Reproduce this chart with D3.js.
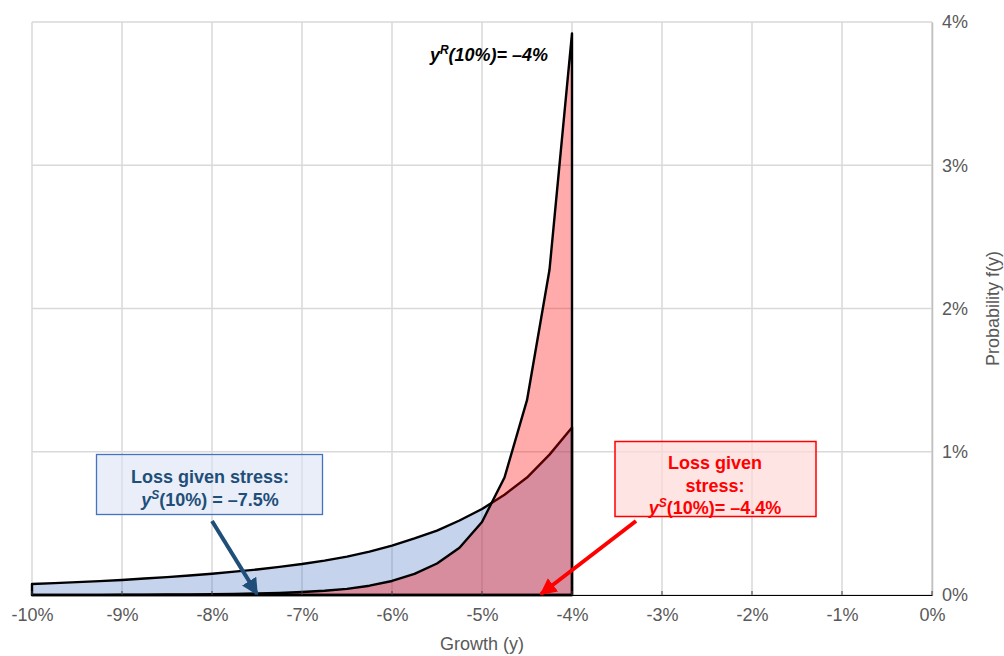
<!DOCTYPE html>
<html>
<head>
<meta charset="utf-8">
<script src="https://cdn.jsdelivr.net/npm/d3@7"></script>
<style>
  html, body { margin: 0; padding: 0; background: #fff; }
  svg { display: block; font-family: "Liberation Sans", Arial, sans-serif; }
</style>
</head>
<body>
<svg id="chart" width="1004" height="656"></svg>
<script>
// Growth grid (in %), stressed/blue and reverse/red densities (in %)
const growth = [-10, -9.75, -9.5, -9.25, -9, -8.75, -8.5, -8.25, -8, -7.75, -7.5, -7.25, -7,
  -6.75, -6.5, -6.25, -6, -5.75, -5.5, -5.25, -5, -4.75, -4.5, -4.25, -4];
const blueDensity = [0.077, 0.083, 0.090, 0.097, 0.105, 0.115, 0.125, 0.136, 0.148, 0.163, 0.178,
  0.196, 0.216, 0.240, 0.268, 0.303, 0.345, 0.395, 0.450, 0.520, 0.600, 0.700, 0.820, 0.980, 1.170];
const redDensity = [0.000, 0.000, 0.001, 0.001, 0.002, 0.002, 0.003, 0.004, 0.006, 0.008, 0.011,
  0.015, 0.021, 0.030, 0.043, 0.065, 0.098, 0.148, 0.220, 0.330, 0.510, 0.820, 1.360, 2.270, 3.920];
const xTicks = [-10, -9, -8, -7, -6, -5, -4, -3, -2, -1, 0];
const yTicks = [0, 1, 2, 3, 4];
const xTickLabels = ["-10%", "-9%", "-8%", "-7%", "-6%", "-5%", "-4%", "-3%", "-2%", "-1%", "0%"];
const yTickLabels = ["0%", "1%", "2%", "3%", "4%"];
const xTitle = "Growth (y)";
const yTitle = "Probability  f(y)";

const svg = d3.select("#chart");
const x = d3.scaleLinear().domain([-10, 0]).range([32, 932]);
const y = d3.scaleLinear().domain([0, 4]).range([595, 22]);

const gridColor = "#d9d9d9";
const labelColor = "#595959";
const FONT = "'Liberation Sans', Arial, sans-serif";

// Gridlines
const grid = svg.append("g");
grid.selectAll("line.vx").data(xTicks).join("line")
  .attr("x1", d => x(d)).attr("x2", d => x(d))
  .attr("y1", y(4)).attr("y2", y(0))
  .attr("stroke", gridColor).attr("stroke-width", 1.5);
grid.selectAll("line.hy").data(yTicks).join("line")
  .attr("x1", x(-10)).attr("x2", x(0))
  .attr("y1", d => y(d)).attr("y2", d => y(d))
  .attr("stroke", gridColor).attr("stroke-width", 1.5);

// Right axis
const yAxis = d3.axisRight(y).tickValues(yTicks).tickSize(0).tickPadding(10)
  .tickFormat((d, i) => yTickLabels[i]);
const gy = svg.append("g").attr("transform", `translate(${x(0)},0)`).call(yAxis);
gy.select(".domain").attr("stroke", "#bfbfbf").attr("stroke-width", 1.5);
gy.selectAll("text").attr("fill", labelColor).style("font-size", "18px").style("font-family", FONT);

// Bottom axis
const xAxis = d3.axisBottom(x).tickValues(xTicks).tickSize(0).tickPadding(13)
  .tickFormat((d, i) => xTickLabels[i]);
const gx = svg.append("g").attr("transform", `translate(0,${y(0)})`).call(xAxis);
gx.select(".domain").attr("stroke", "#000").attr("stroke-width", 1.2);
gx.selectAll("text").attr("fill", labelColor).style("font-size", "18px").style("font-family", FONT);

// Areas
const pts = (vals) => {
  const p = growth.map((g, i) => [g, vals[i]]);
  return [[growth[0], 0], ...p, [growth[growth.length - 1], 0]];
};
const line = d3.line().x(d => x(d[0])).y(d => y(d[1]));

svg.append("path").attr("d", line(pts(blueDensity)) + "Z")
  .attr("fill", "#4472c4").attr("fill-opacity", 0.31)
  .attr("stroke", "#000").attr("stroke-width", 2.4).attr("stroke-linejoin", "round");

svg.append("path").attr("d", line(pts(redDensity)) + "Z")
  .attr("fill", "#ff0000").attr("fill-opacity", 0.33)
  .attr("stroke", "none");
svg.append("path").attr("d", line(pts(redDensity)) + "Z")
  .attr("fill", "none")
  .attr("stroke", "#000").attr("stroke-width", 2.4).attr("stroke-linejoin", "round");

// Small inside tick marks on x axis
svg.append("g").selectAll("line").data(xTicks).join("line")
  .attr("x1", d => x(d)).attr("x2", d => x(d))
  .attr("y1", y(0) - 4).attr("y2", y(0))
  .attr("stroke", "#404040").attr("stroke-width", 1);

// Axis titles
svg.append("text").attr("x", 482).attr("y", 650).attr("text-anchor", "middle")
  .attr("fill", labelColor).style("font-size", "18px").text(xTitle);
svg.append("text").attr("transform", `translate(999,${y(2)}) rotate(-90)`)
  .attr("text-anchor", "middle")
  .attr("fill", labelColor).style("font-size", "18px").text(yTitle);

// Arrow markers
const defs = svg.append("defs");
function marker(id, color) {
  defs.append("marker").attr("id", id).attr("viewBox", "0 0 10 10")
    .attr("refX", 9).attr("refY", 5).attr("markerWidth", 4.2).attr("markerHeight", 4.2)
    .attr("markerUnits", "strokeWidth").attr("orient", "auto")
    .append("path").attr("d", "M0,0 L10,5 L0,10 Z").attr("fill", color);
}
marker("arrBlue", "#1f4e79");
marker("arrRed", "#ff0000");

// Blue annotation
const blueDark = "#1f4e79";
svg.append("rect").attr("x", 96.5).attr("y", 454.5).attr("width", 226).attr("height", 60)
  .attr("fill", "#dae3f3").attr("fill-opacity", 0.6)
  .attr("stroke", "#4472c4").attr("stroke-width", 1.3);
svg.append("text").attr("x", 210).attr("y", 483).attr("text-anchor", "middle")
  .attr("fill", blueDark).style("font-size", "18px").style("font-weight", "bold")
  .text("Loss given stress:");
const bt = svg.append("text").attr("x", 210).attr("y", 506).attr("text-anchor", "middle")
  .attr("fill", blueDark).style("font-size", "18px").style("font-weight", "bold");
bt.append("tspan").style("font-style", "italic").text("y");
bt.append("tspan").style("font-style", "italic").style("font-size", "12px").attr("dy", -7).text("S");
bt.append("tspan").attr("dy", 7).text("(10%) = \u20137.5%");
svg.append("line")
  .attr("x1", 212).attr("y1", 521).attr("x2", x(-7.5)).attr("y2", y(0) - 1)
  .attr("stroke", blueDark).attr("stroke-width", 4)
  .attr("marker-end", "url(#arrBlue)");

// Red annotation
svg.append("rect").attr("x", 615).attr("y", 441.5).attr("width", 201).attr("height", 75)
  .attr("fill", "#ffd9d9").attr("fill-opacity", 0.7)
  .attr("stroke", "#ff0000").attr("stroke-width", 1.5);
const redLines = ["Loss given", "stress:"];
svg.selectAll("text.rl").data(redLines).join("text")
  .attr("x", 715).attr("y", (d, i) => 469 + i * 23).attr("text-anchor", "middle")
  .attr("fill", "#ff0000").style("font-size", "18px").style("font-weight", "bold")
  .text(d => d);
const rt = svg.append("text").attr("x", 715).attr("y", 514).attr("text-anchor", "middle")
  .attr("fill", "#ff0000").style("font-size", "18px").style("font-weight", "bold");
rt.append("tspan").style("font-style", "italic").text("y");
rt.append("tspan").style("font-style", "italic").style("font-size", "12px").attr("dy", -7).text("S");
rt.append("tspan").attr("dy", 7).text("(10%)= \u20134.4%");
svg.append("line")
  .attr("x1", 636).attr("y1", 521).attr("x2", 541).attr("y2", y(0) - 1)
  .attr("stroke", "#ff0000").attr("stroke-width", 4)
  .attr("marker-end", "url(#arrRed)");

// Top label
const tl = svg.append("text").attr("x", 489).attr("y", 61).attr("text-anchor", "middle")
  .attr("fill", "#000").style("font-size", "18px").style("font-weight", "bold").style("font-style", "italic");
tl.append("tspan").text("y");
tl.append("tspan").style("font-size", "12px").attr("dy", -7).text("R");
tl.append("tspan").attr("dy", 7).text("(10%)= \u20134%");
</script>
</body>
</html>
